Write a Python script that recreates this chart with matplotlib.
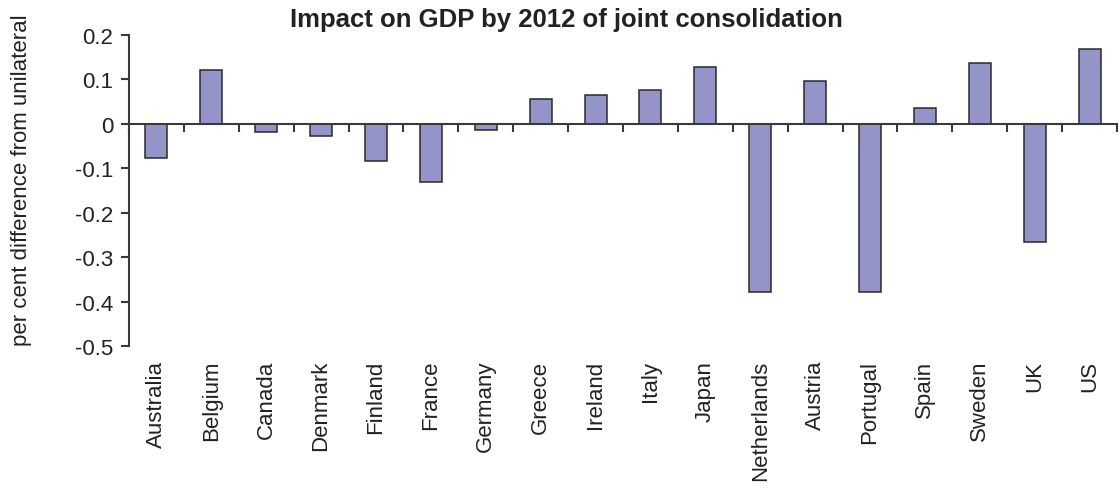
import matplotlib
matplotlib.use("Agg")
import matplotlib.pyplot as plt
import matplotlib.transforms as mtransforms
import numpy as np

# data
countries = ["Australia", "Belgium", "Canada", "Denmark", "Finland", "France",
             "Germany", "Greece", "Ireland", "Italy", "Japan", "Netherlands",
             "Austria", "Portugal", "Spain", "Sweden", "UK", "US"]
impact = [-0.077, 0.121, -0.018, -0.028, -0.083, -0.131,
          -0.014, 0.056, 0.066, 0.077, 0.128, -0.379,
          0.097, -0.379, 0.035, 0.136, -0.265, 0.169]
yticks = [0.2, 0.1, 0, -0.1, -0.2, -0.3, -0.4, -0.5]
ytick_labels = ["0.2", "0.1", "0", "-0.1", "-0.2", "-0.3", "-0.4", "-0.5"]

plt.rcParams["font.family"] = ["Liberation Sans", "DejaVu Sans"]
text_col = "#222222"
line_col = "#3a3a3a"

fig = plt.figure(figsize=(11.19, 4.89), dpi=100)
ax = fig.add_axes([129 / 1119, 1 - 347 / 489, (1117 - 129) / 1119, (347 - 36) / 489])

x = np.arange(len(countries))
ax.bar(x, impact, width=0.4, color="#9494C8", edgecolor="#2a2a2a", linewidth=1.1, zorder=2)

ax.set_xlim(-0.5, len(countries) - 0.5)
ax.set_ylim(-0.5, 0.2)

for s in ["top", "right"]:
    ax.spines[s].set_visible(False)
ax.spines["bottom"].set_position(("data", 0))
ax.spines["bottom"].set_color(line_col)
ax.spines["bottom"].set_linewidth(1.5)
ax.spines["left"].set_color(line_col)
ax.spines["left"].set_linewidth(1.5)

ax.set_yticks(yticks)
ax.set_yticklabels(ytick_labels)
ax.tick_params(axis="y", direction="out", length=5.5, width=1.5, color=line_col,
               labelsize=16, labelcolor=text_col, pad=6)

# ticks at category boundaries, labels drawn separately at the bottom
ax.set_xticks(x)
ax.set_xticklabels([])
ax.tick_params(axis="x", which="major", length=0)
ax.set_xticks(np.arange(len(countries) + 1) - 0.5, minor=True)
ax.tick_params(axis="x", which="minor", direction="out", length=5.5, width=1.5, color=line_col)

trans = mtransforms.blended_transform_factory(ax.transData, ax.transAxes)
for i, name in enumerate(countries):
    ax.text(i, -0.045, name, transform=trans, rotation=90, ha="center", va="top",
            fontsize=16, color=text_col)

fig.text(566 / 1119, 1 - 20 / 489, "Impact on GDP by 2012 of joint consolidation",
         ha="center", va="center", fontsize=18.5, fontweight="bold", color=text_col)
fig.text(22 / 1119, 1 - 180 / 489, "per cent difference from unilateral",
         rotation=90, ha="center", va="center", fontsize=16, color=text_col)

fig.savefig("out.png", dpi=100)
